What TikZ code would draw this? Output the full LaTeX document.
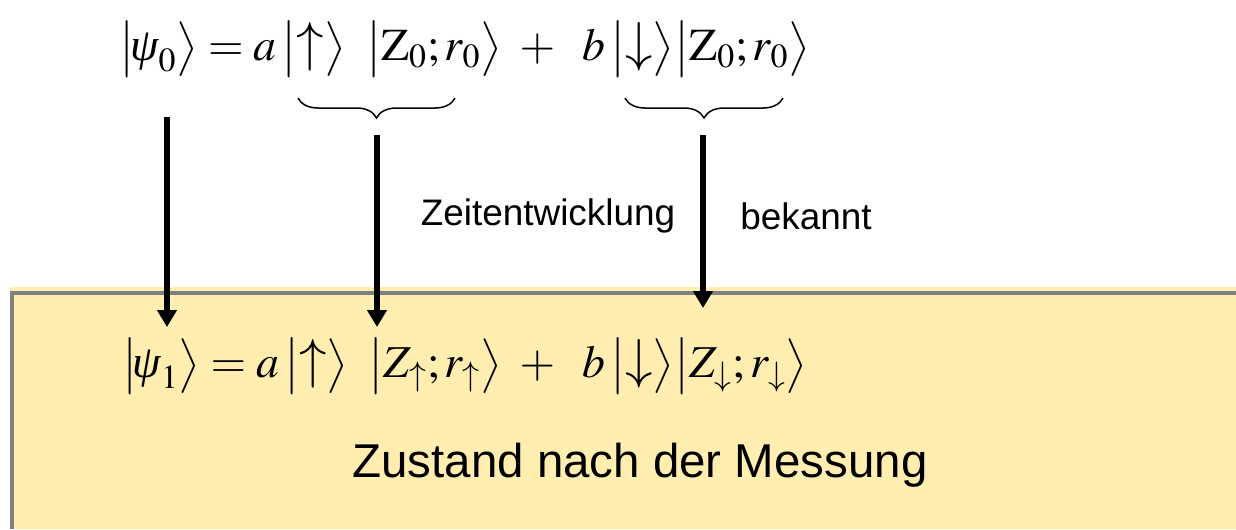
\documentclass[tikz,border=0pt]{standalone}
\usepackage{mathptmx}
\usepackage[no-math]{fontspec}
\setmainfont{Liberation Sans}
\newfontfamily\serifit{Liberation Serif}
\usetikzlibrary{arrows.meta,decorations.pathreplacing}
\definecolor{boxyellow}{RGB}{255,238,176}
\definecolor{boxgray}{RGB}{128,128,128}
\newcommand{\psiit}{\mbox{\serifit\itshape ψ}}
\newcommand{\bket}[1]{\bigl|#1\bigr\rangle}
\newcommand{\uparr}{\scalebox{1.2}{$\uparrow$}}
\newcommand{\downarr}{\scalebox{1.2}{$\downarrow$}}
\newcommand{\plusgap}{\hspace{0.25em}+\hspace{0.45em}}
\tikzset{
  eq/.style={font=\fontsize{26}{31}\selectfont, inner sep=0pt},
  lbl/.style={font=\fontsize{21}{25}\selectfont},
  bigarrow/.style={line width=0.12cm, -{Triangle[width=0.38cm,length=0.34cm]}},
  ubrace/.style={decorate, decoration={brace,mirror,amplitude=0.4cm}, line width=0.03cm}
}
\begin{document}
\begin{tikzpicture}
  \useasboundingbox (0,0) rectangle (24.72,-10.58);
  % Kasten unten
  \fill[boxyellow] (0.2,-5.74) rectangle (24.72,-10.58);
  \draw[boxgray, line width=0.08cm] (0.24,-10.58) -- (0.24,-5.86) -- (24.72,-5.86);
  % Zustaende
  \node[eq] (psi0) at (9.3,-0.98)
    {$\bket{\!\psiit_0} = a\,\bket{\uparr}\;\;\bket{\mathrm{Z}_0;r_0} \plusgap b\,\bket{\downarr}\bket{\mathrm{Z}_0;r_0}$};
  \node[eq] (psi1) at (9.3,-7.32)
    {$\bket{\!\psiit_1} = a\,\bket{\uparr}\;\;\bket{Z_{\uparrow};r_{\uparrow}} \plusgap b\,\bket{\downarr}\bket{Z_{\downarrow};r_{\downarrow}}$};
  \node[lbl] (zeit) at (10.96,-4.32) {Zeitentwicklung};
  \node[lbl] (bek) at (16.12,-4.32) {bekannt};
  \node[font=\fontsize{27}{32}\selectfont] (zust) at (12.8,-9.3) {Zustand nach der Messung};
  % Klammern
  \coordinate (up0l) at (5.96,-1.96);
  \coordinate (up0r) at (9.1,-1.96);
  \coordinate (dn0l) at (12.5,-1.96);
  \coordinate (dn0r) at (15.66,-1.96);
  \draw[ubrace] (up0l) -- (up0r);
  \draw[ubrace] (dn0l) -- (dn0r);
  % Pfeile
  \coordinate (psiS) at (3.34,-2.34);
  \coordinate (psiE) at (3.34,-6.54);
  \coordinate (upS) at (7.54,-2.7);
  \coordinate (upE) at (7.54,-6.54);
  \coordinate (dnS) at (14.06,-2.7);
  \coordinate (dnE) at (14.06,-6.16);
  \draw[bigarrow] (psiS) -- (psiE);
  \draw[bigarrow] (upS) -- (upE);
  \draw[bigarrow] (dnS) -- (dnE);
\end{tikzpicture}
\end{document}
